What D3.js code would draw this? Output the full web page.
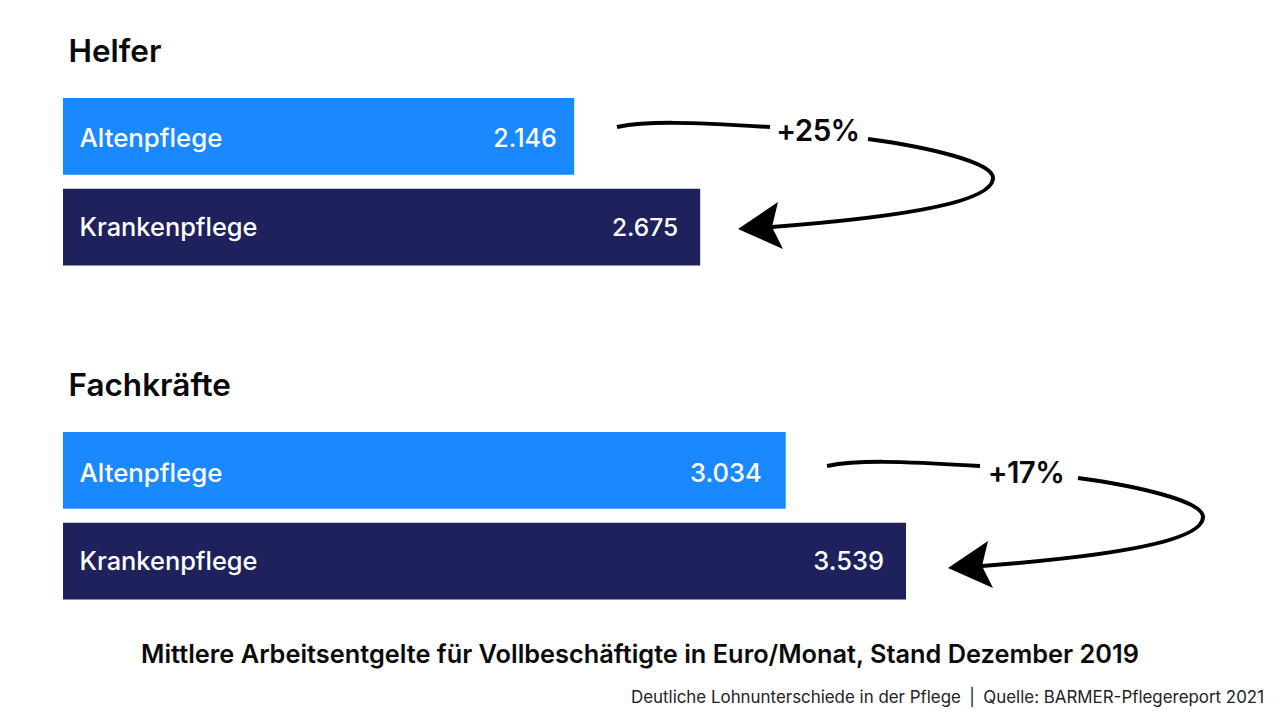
<!DOCTYPE html>
<html><head><meta charset="utf-8">
<script src="https://cdn.jsdelivr.net/npm/d3@7"></script>
<style>html,body{margin:0;padding:0;background:#fff}svg{display:block}text{font-family:Inter,"Noto Sans",sans-serif}</style>
</head><body><svg id="c" width="1280" height="720"></svg>
<script>
const groups = ["Helfer", "Fachkräfte"];
const sectors = ["Altenpflege", "Krankenpflege"];
const helferValues = [2146, 2675];
const fachkraefteValues = [3034, 3539];
const changes = ["+25%", "+17%"];
const caption = "Mittlere Arbeitsentgelte für Vollbeschäftigte in Euro/Monat, Stand Dezember 2019";
const source = "Deutliche Lohnunterschiede in der Pflege\u2002|\u2002Quelle: BARMER-Pflegereport 2021";
const colors = ["#1a88ff", "#1e215b"];
const de = d3.format(",");
const fmt = v => de(v).replace(",", ".");

const svg = d3.select("#c");
const x = d3.scaleLinear().domain([0, 3539]).range([63, 906]);
const groupTop = d3.scalePoint().domain(groups).range([98, 432]);
const barY = d3.scaleBand().domain(sectors).range([0, 167.5]).paddingInner(0.154);
const seriesByGroup = [helferValues, fachkraefteValues];
const color = d3.scaleOrdinal().domain(sectors).range(colors);
const valueInset = [[17.5, 22], [24, 22]];
const valueSize = [[25, 24.5], [25.5, 25.5]];
const nameSize = [25.8, 25.4];
const baselineShift = [[2, 0], [2.5, 0]];

// arrow geometry relative to the annotation origin
const origins = [[617,127],[827,466]];
const labelPos = [[201,3],[199,6]];
function arcs() {
  const a = d3.path(); a.moveTo(0,0); a.bezierCurveTo(30,-6,70,-5,153,0);
  const b = d3.path(); b.moveTo(251,12); b.bezierCurveTo(310,20,376,35,376,51); b.bezierCurveTo(376,78,260,92,155,100);
  return [a.toString(), b.toString()];
}
const head = [[121,102],[161,75],[155,100],[166,122]];

groups.forEach((g, gi) => {
  const top = groupTop(g);
  const G = svg.append("g");
  G.append("text").attr("x", 68.5).attr("y", top - 36).attr("font-size", 31.5).attr("font-weight", 600).attr("fill", "#0a0a0a").text(g);
  const rows = G.selectAll("g").data(sectors.map((s, i) => ({s, i, v: seriesByGroup[gi][i]}))).join("g")
    .attr("transform", d => `translate(0,${top + barY(d.s)})`);
  rows.append("rect").attr("x", x(0)).attr("width", d => x(d.v) - x(0)).attr("height", barY.bandwidth()).attr("fill", d => color(d.s));
  rows.append("text").attr("x", 79.5).attr("y", d => barY.bandwidth() / 2 + 9 + baselineShift[gi][d.i]).attr("font-size", d => nameSize[d.i]).attr("font-weight", 500).attr("fill", "#fff").text(d => d.s);
  rows.append("text").attr("x", d => x(d.v) - valueInset[gi][d.i]).attr("y", d => barY.bandwidth() / 2 + 9 + baselineShift[gi][d.i]).attr("text-anchor", "end").attr("font-size", d => valueSize[gi][d.i]).attr("font-weight", 500).attr("fill", "#fff").text(d => fmt(d.v));

  const [ox, oy] = origins[gi];
  const a = svg.append("g").attr("transform", `translate(${ox},${oy})`);
  arcs().forEach(d => a.append("path").attr("d", d).attr("fill", "none").attr("stroke", "#000").attr("stroke-width", 4));
  a.append("path").attr("d", d3.line()(head) + "Z").attr("fill", "#000");
  a.append("text").attr("x", labelPos[gi][0]).attr("y", labelPos[gi][1] + 11).attr("text-anchor", "middle").attr("font-size", 29.5).attr("font-weight", 600).attr("letter-spacing", -0.6).attr("fill", "#0a0a0a").text(changes[gi]);
});

svg.append("text").attr("x", 640).attr("y", 663).attr("text-anchor", "middle").attr("font-size", 25.35).attr("font-weight", 600).attr("fill", "#0a0a0a").text(caption);
svg.append("text").attr("x", 1264).attr("y", 703).attr("text-anchor", "end").attr("font-size", 16.9).attr("fill", "#222").text(source);
</script></body></html>
